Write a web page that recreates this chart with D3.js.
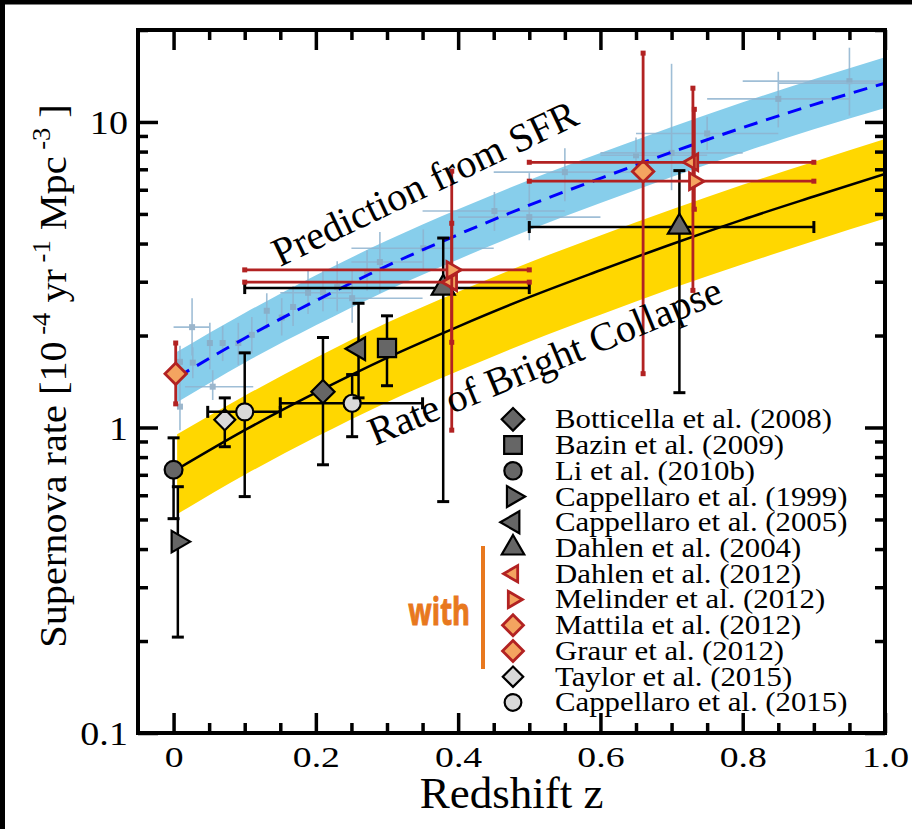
<!DOCTYPE html>
<html>
<head>
<meta charset="utf-8">
<script src="https://d3js.org/d3.v7.min.js"></script>
<style>
  body { margin: 0; background: #fff; }
  text { font-family: "Liberation Serif", "Times New Roman", serif; fill: #000; }
</style>
</head>
<body>
<div id="chart"></div>
<script>

// model curves
var modelZ = [0.005, 0.1, 0.2, 0.3, 0.4, 0.5, 0.6, 0.7, 0.8, 0.9, 1.0];
var collapseRate = [0.73, 0.98, 1.30, 1.69, 2.14, 2.67, 3.27, 3.98, 4.79, 5.70, 6.76];
var collapseLow = [0.52, 0.70, 0.93, 1.21, 1.53, 1.91, 2.34, 2.85, 3.42, 4.08, 4.83];
var collapseHigh = [0.95, 1.27, 1.69, 2.20, 2.78, 3.47, 4.25, 5.17, 6.23, 7.41, 8.79];
var sfrRate = [1.46, 1.96, 2.60, 3.38, 4.28, 5.34, 6.54, 7.96, 9.58, 11.4, 13.4];
var sfrLow = [1.21, 1.63, 2.16, 2.81, 3.55, 4.43, 5.43, 6.61, 7.95, 9.46, 11.1];
var sfrHigh = [1.77, 2.37, 3.15, 4.09, 5.18, 6.46, 7.91, 9.63, 11.6, 13.8, 16.3];

// star formation data behind the prediction (light blue crosses)
var sfrDataZ = [0.009, 0.026, 0.027, 0.009, 0.055, 0.051, 0.069, 0.091, 0.11, 0.131, 0.152, 0.168, 0.189, 0.21, 0.23, 0.251, 0.272, 0.29, 0.351, 0.451, 0.5, 0.55, 0.65, 0.70, 0.75, 0.85, 0.95, 1.0];
var sfrDataVal = [1.64, 2.13, 1.63, 1.17, 1.36, 1.89, 1.89, 1.89, 2.01, 2.41, 2.29, 2.48, 2.76, 2.77, 2.88, 2.65, 3.23, 3.48, 3.86, 5.11, 4.88, 6.85, 7.78, 7.92, 9.17, 11.9, 13.6, 13.4];
var sfrDataLo = [1.45, 1.72, 1.45, 0.98, 1.23, 1.55, 1.65, 1.60, 1.75, 2.10, 2.00, 2.15, 2.35, 2.40, 2.40, 2.20, 2.80, 2.76, 3.25, 4.40, 4.10, 5.50, 6.80, 5.98, 8.10, 9.60, 10.5, 12.0];
var sfrDataHi = [1.85, 2.65, 1.83, 1.41, 1.54, 2.20, 2.15, 2.20, 2.30, 2.75, 2.65, 2.90, 3.30, 3.25, 3.50, 3.30, 3.80, 4.36, 4.45, 5.90, 6.80, 8.20, 8.90, 15.5, 10.4, 14.6, 17.5, 15.0];
var sfrDataZLo = [null, 0.0, null, null, 0.016, null, null, null, null, null, null, null, 0.15, null, null, 0.2, null, 0.25, 0.25, 0.35, 0.40, 0.45, 0.60, 0.60, 0.65, 0.75, 0.80, 0.85];
var sfrDataZHi = [null, 0.051, null, null, 0.112, null, null, null, null, null, null, null, 0.25, null, null, 0.35, null, 0.35, 0.45, 0.55, 0.60, 0.65, 0.75, 0.80, 0.85, 0.95, 1.00, 1.05];

// supernova rate measurements
var surveys = ["Botticella et al. (2008)", "Bazin et al. (2009)", "Li et al. (2010b)", "Cappellaro et al. (1999)",
  "Cappellaro et al. (2005)", "Dahlen et al. (2004)", "Dahlen et al. (2012)", "Melinder et al. (2012)",
  "Mattila et al. (2012)", "Graur et al. (2012)", "Taylor et al. (2015)", "Cappellaro et al. (2015)"];
var pointSurvey = [2, 3, 10, 11, 11, 0, 4, 1, 5, 5, 8, 9, 6, 7, 6, 7];
var pointZ = [0.0, 0.006, 0.072, 0.1, 0.251, 0.21, 0.26, 0.30, 0.379, 0.711, 0.003, 0.66, 0.391, 0.391, 0.730, 0.732];
var pointRate = [0.727, 0.423, 1.06, 1.125, 1.20, 1.31, 1.81, 1.82, 2.86, 4.53, 1.50, 6.89, 2.99, 3.28, 7.38, 6.40];
var pointLo = [0.503, 0.206, 0.865, 0.594, 0.933, 0.755, 1.25, 1.37, 0.572, 1.30, 1.195, 1.50, 1.90, 0.98, 2.81, 5.18];
var pointHi = [0.925, 0.64, 1.25, 1.755, 1.49, 1.97, 2.55, 2.32, 4.17, 6.93, 1.89, 16.8, 4.66, 6.90, 12.9, 11.0];
var pointZLo = [null, null, null, 0.048, 0.15, null, null, null, 0.1, 0.5, null, null, 0.1, 0.1, 0.5, 0.5];
var pointZHi = [null, null, null, 0.15, 0.35, null, null, null, 0.5, 0.9, null, null, 0.5, 0.5, 0.9, 0.9];

// tick values
var xMajor = [0, 0.2, 0.4, 0.6, 0.8, 1.0];
var xLabels = ["0", "0.2", "0.4", "0.6", "0.8", "1.0"];
var yMajor = [0.1, 1, 10];
var yLabels = ["0.1", "1", "10"];

var width = 912, height = 829;
var margin = {left: 138, right: 27, top: 30, bottom: 96};

// marker look per survey
var dark = {fill: "#666666", stroke: "#000", sw: 2.2};
var light = {fill: "#d9d9d9", stroke: "#000", sw: 2.2};
var red = {fill: "#f4a460", stroke: "#b22222", sw: 2.8};
var markerStyle = [
  {shape: "diamond", size: 270, c: dark},
  {shape: "square", size: 330, c: dark},
  {shape: "circle", size: 250, c: dark},
  {shape: "right", size: 200, c: dark},
  {shape: "left", size: 220, c: dark},
  {shape: "up", size: 230, c: dark},
  {shape: "left", size: 120, c: red},
  {shape: "right", size: 120, c: red},
  {shape: "diamond", size: 230, c: red},
  {shape: "diamond", size: 230, c: red},
  {shape: "diamond", size: 220, c: light},
  {shape: "circle", size: 230, c: light}
];

var svg = d3.select("#chart").append("svg").attr("width", width).attr("height", height);

// black edge at top and left
svg.append("rect").attr("x", 0).attr("y", 0).attr("width", width).attr("height", 4.5).attr("fill", "#000");
svg.append("rect").attr("x", 0).attr("y", 0).attr("width", 5).attr("height", height).attr("fill", "#000");

var xScale = d3.scaleLinear()
    .domain([-0.05, 1.0])
    .range([margin.left, width - margin.right]);

var yScale = d3.scaleLog()
    .domain([0.1, 20])
    .range([height - margin.bottom, margin.top]);

svg.append("clipPath").attr("id", "plotClip")
  .append("rect")
    .attr("x", margin.left).attr("y", margin.top)
    .attr("width", width - margin.left - margin.right)
    .attr("height", height - margin.top - margin.bottom);

var plot = svg.append("g").attr("clip-path", "url(#plotClip)");

var model = modelZ.map(function(z, i) {
  return {z: z, c: collapseRate[i], cl: collapseLow[i], ch: collapseHigh[i], s: sfrRate[i], sl: sfrLow[i], sh: sfrHigh[i]};
});

// bands
plot.append("path")
  .datum(model)
  .attr("fill", "#87ceeb")
  .attr("d", d3.area().curve(d3.curveMonotoneX)
    .x(function(d) { return xScale(d.z); })
    .y0(function(d) { return yScale(d.sl); })
    .y1(function(d) { return yScale(d.sh); }));

plot.append("path")
  .datum(model)
  .attr("fill", "#ffd700")
  .attr("d", d3.area().curve(d3.curveMonotoneX)
    .x(function(d) { return xScale(d.z); })
    .y0(function(d) { return yScale(d.cl); })
    .y1(function(d) { return yScale(d.ch); }));

// light blue sfr points
var sfrPts = sfrDataZ.map(function(z, i) {
  return {z: z, v: sfrDataVal[i], lo: sfrDataLo[i], hi: sfrDataHi[i], zlo: sfrDataZLo[i], zhi: sfrDataZHi[i]};
});
var sfrG = plot.append("g").attr("stroke", "#8fb3cf").attr("stroke-width", 1.6).attr("opacity", 0.85);
sfrPts.forEach(function(d) {
  sfrG.append("line")
    .attr("x1", xScale(d.z)).attr("x2", xScale(d.z))
    .attr("y1", yScale(d.lo)).attr("y2", yScale(d.hi));
  if (d.zlo != null) {
    sfrG.append("line")
      .attr("x1", xScale(d.zlo)).attr("x2", xScale(d.zhi))
      .attr("y1", yScale(d.v)).attr("y2", yScale(d.v));
  }
  sfrG.append("rect")
    .attr("x", xScale(d.z) - 3).attr("y", yScale(d.v) - 3)
    .attr("width", 6).attr("height", 6)
    .attr("fill", "#8aaac4").attr("stroke", "none");
});

// prediction and collapse lines
plot.append("path")
  .datum(model)
  .attr("fill", "none")
  .attr("stroke", "#0000ff")
  .attr("stroke-width", 3)
  .attr("stroke-dasharray", "14,9")
  .attr("d", d3.line().curve(d3.curveMonotoneX)
    .x(function(d) { return xScale(d.z); })
    .y(function(d) { return yScale(d.s); }));

plot.append("path")
  .datum(model)
  .attr("fill", "none")
  .attr("stroke", "#000")
  .attr("stroke-width", 2.5)
  .attr("d", d3.line().curve(d3.curveMonotoneX)
    .x(function(d) { return xScale(d.z); })
    .y(function(d) { return yScale(d.c); }));

// symbol path for a marker style
function markerPath(m) {
  var type = d3.symbolCircle;
  if (m.shape == "square" || m.shape == "diamond") type = d3.symbolSquare;
  if (m.shape == "up" || m.shape == "left" || m.shape == "right") type = d3.symbolTriangle;
  return d3.symbol().type(type).size(m.size)();
}
function markerRotate(m) {
  if (m.shape == "diamond") return 45;
  if (m.shape == "left") return -90;
  if (m.shape == "right") return 90;
  return 0;
}

// measurements, black ones first then the red ones on top
var points = pointZ.map(function(z, i) {
  return {s: pointSurvey[i], z: z, v: pointRate[i], lo: pointLo[i], hi: pointHi[i], zlo: pointZLo[i], zhi: pointZHi[i]};
});
points.sort(function(a, b) {
  return (markerStyle[a.s].c == red ? 1 : 0) - (markerStyle[b.s].c == red ? 1 : 0);
});

var pts = svg.append("g");
points.forEach(function(d) {
  var m = markerStyle[d.s];
  var isRed = m.c == red;
  var col = isRed ? "#b22222" : "#000";
  var g = pts.append("g").attr("stroke", col).attr("stroke-width", isRed ? 2.8 : 2.5);
  var cx = xScale(d.z), cy = yScale(d.v);

  g.append("line").attr("x1", cx).attr("x2", cx).attr("y1", yScale(d.lo)).attr("y2", yScale(d.hi));
  [d.lo, d.hi].forEach(function(v) {
    if (isRed) {
      g.append("rect").attr("x", cx - 2.5).attr("y", yScale(v) - 2.5).attr("width", 5).attr("height", 5).attr("fill", col).attr("stroke", "none");
    } else {
      g.append("line").attr("x1", cx - 6).attr("x2", cx + 6).attr("y1", yScale(v)).attr("y2", yScale(v)).attr("stroke-width", 3);
    }
  });
  if (d.zlo != null) {
    g.append("line").attr("x1", xScale(d.zlo)).attr("x2", xScale(d.zhi)).attr("y1", cy).attr("y2", cy);
    [d.zlo, d.zhi].forEach(function(z) {
      if (isRed) {
        g.append("rect").attr("x", xScale(z) - 2.5).attr("y", cy - 2.5).attr("width", 5).attr("height", 5).attr("fill", col).attr("stroke", "none");
      } else {
        g.append("line").attr("x1", xScale(z)).attr("x2", xScale(z)).attr("y1", cy - 6).attr("y2", cy + 6).attr("stroke-width", 3);
      }
    });
  }
  g.append("path")
    .attr("d", markerPath(m))
    .attr("transform", "translate(" + [cx, cy] + ") rotate(" + markerRotate(m) + ")")
    .attr("fill", m.c.fill)
    .attr("stroke", m.c.stroke)
    .attr("stroke-width", m.c.sw);
});

// axes, ticks inward on all four sides
var x0 = height - margin.bottom, x1 = margin.top;
var minorX = d3.range(0, 1.001, 0.05).filter(function(v) { return Math.abs(v * 5 - Math.round(v * 5)) > 1e-6; });
var minorY = [];
[0.1, 1, 10].forEach(function(dec) {
  for (var k = 2; k <= 9; k++) { if (dec * k <= 20) minorY.push(dec * k); }
});

function styleAxis(g) {
  g.select(".domain").remove();
  g.selectAll(".tick line").attr("stroke", "#000").attr("stroke-width", 3.5);
}

var bottomAxis = svg.append("g")
    .attr("transform", "translate(" + [0, x0] + ")")
    .call(d3.axisBottom(xScale).tickValues(xMajor).tickSize(-20).tickFormat(function(d, i) { return xLabels[i]; }))
    .call(styleAxis);
bottomAxis.selectAll("text")
    .attr("y", 34).attr("dy", 0)
    .attr("transform", "scale(1.3,1)")
    .style("font-size", "29px")
    .style("font-family", "'Liberation Serif', serif");

svg.append("g")
    .attr("transform", "translate(" + [0, x0] + ")")
    .call(d3.axisBottom(xScale).tickValues(minorX).tickSize(-10).tickFormat(""))
    .call(styleAxis);
svg.append("g")
    .attr("transform", "translate(" + [0, x1] + ")")
    .call(d3.axisTop(xScale).tickValues(xMajor).tickSize(-20).tickFormat(""))
    .call(styleAxis);
svg.append("g")
    .attr("transform", "translate(" + [0, x1] + ")")
    .call(d3.axisTop(xScale).tickValues(minorX).tickSize(-10).tickFormat(""))
    .call(styleAxis);

var leftAxis = svg.append("g")
    .attr("transform", "translate(" + [margin.left, 0] + ")")
    .call(d3.axisLeft(yScale).tickValues(yMajor).tickSize(-20).tickFormat(function(d, i) { return yLabels[i]; }))
    .call(styleAxis);
leftAxis.selectAll("text")
    .attr("x", -9).attr("dy", "0.34em")
    .attr("transform", "scale(1.12,1)")
    .style("font-size", "34px")
    .style("font-family", "'Liberation Serif', serif");

svg.append("g")
    .attr("transform", "translate(" + [margin.left, 0] + ")")
    .call(d3.axisLeft(yScale).tickValues(minorY).tickSize(-10).tickFormat(""))
    .call(styleAxis);
svg.append("g")
    .attr("transform", "translate(" + [width - margin.right, 0] + ")")
    .call(d3.axisRight(yScale).tickValues(yMajor).tickSize(-20).tickFormat(""))
    .call(styleAxis);
svg.append("g")
    .attr("transform", "translate(" + [width - margin.right, 0] + ")")
    .call(d3.axisRight(yScale).tickValues(minorY).tickSize(-10).tickFormat(""))
    .call(styleAxis);

// frame
svg.append("rect")
    .attr("x", margin.left).attr("y", margin.top)
    .attr("width", width - margin.left - margin.right)
    .attr("height", height - margin.top - margin.bottom)
    .attr("fill", "none").attr("stroke", "#000").attr("stroke-width", 4);

// axis titles
svg.append("text")
    .attr("x", (margin.left + width - margin.right) / 2)
    .attr("y", 808)
    .attr("text-anchor", "middle")
    .style("font-size", "45px")
    .text("Redshift z");

var yTitle = svg.append("text")
    .attr("text-anchor", "middle")
    .attr("transform", "translate(" + [66, 376] + ") rotate(-90) scale(1.06,1)")
    .style("font-size", "38px");
yTitle.append("tspan").text("Supernova rate [10");
yTitle.append("tspan").attr("dy", -16).style("font-size", "25px").text(" -4");
yTitle.append("tspan").attr("dy", 16).text(" yr");
yTitle.append("tspan").attr("dy", -16).style("font-size", "25px").text(" -1");
yTitle.append("tspan").attr("dy", 16).text(" Mpc");
yTitle.append("tspan").attr("dy", -16).style("font-size", "25px").text(" -3");
yTitle.append("tspan").attr("dy", 16).text(" ]");

// curve labels
svg.append("text")
    .attr("transform", "translate(" + [280, 267] + ") rotate(-25.5)")
    .style("font-size", "40px")
    .text("Prediction from SFR");

svg.append("text")
    .attr("transform", "translate(" + [375, 446] + ") rotate(-22.5)")
    .style("font-size", "40px")
    .text("Rate of Bright Collapse");

// legend
var legend = svg.selectAll(".legend")
  .data(surveys)
  .enter()
  .append("g")
  .attr("class", "legend")
  .attr("transform", function(d, i) { return "translate(0," + (419.3 + i * 25.74) + ")"; });

legend.append("path")
  .attr("d", function(d, i) {
    var m = markerStyle[i];
    return markerPath({shape: m.shape, size: m.size * 0.95});
  })
  .attr("transform", function(d, i) { return "translate(513,0) rotate(" + markerRotate(markerStyle[i]) + ")"; })
  .attr("fill", function(d, i) { return markerStyle[i].c.fill; })
  .attr("stroke", function(d, i) { return markerStyle[i].c.stroke; })
  .attr("stroke-width", function(d, i) { return markerStyle[i].c.sw; });

legend.append("text")
  .attr("transform", "translate(555,9) scale(1.1,1)")
  .style("font-size", "28px")
  .text(function(d) { return d; });

// "with" marker for the corrected samples
svg.append("line")
    .attr("x1", 483).attr("x2", 483)
    .attr("y1", 546).attr("y2", 669)
    .attr("stroke", "#e8781e").attr("stroke-width", 4);

svg.append("text")
    .attr("transform", "translate(470,625) scale(0.72,1)")
    .attr("text-anchor", "end")
    .style("font-family", "'Open Sans', sans-serif")
    .style("font-weight", "bold")
    .style("font-size", "38px")
    .style("fill", "#e8781e")
    .style("stroke", "#e8781e")
    .style("stroke-width", "1px")
    .text("with");

</script>
</body>
</html>
